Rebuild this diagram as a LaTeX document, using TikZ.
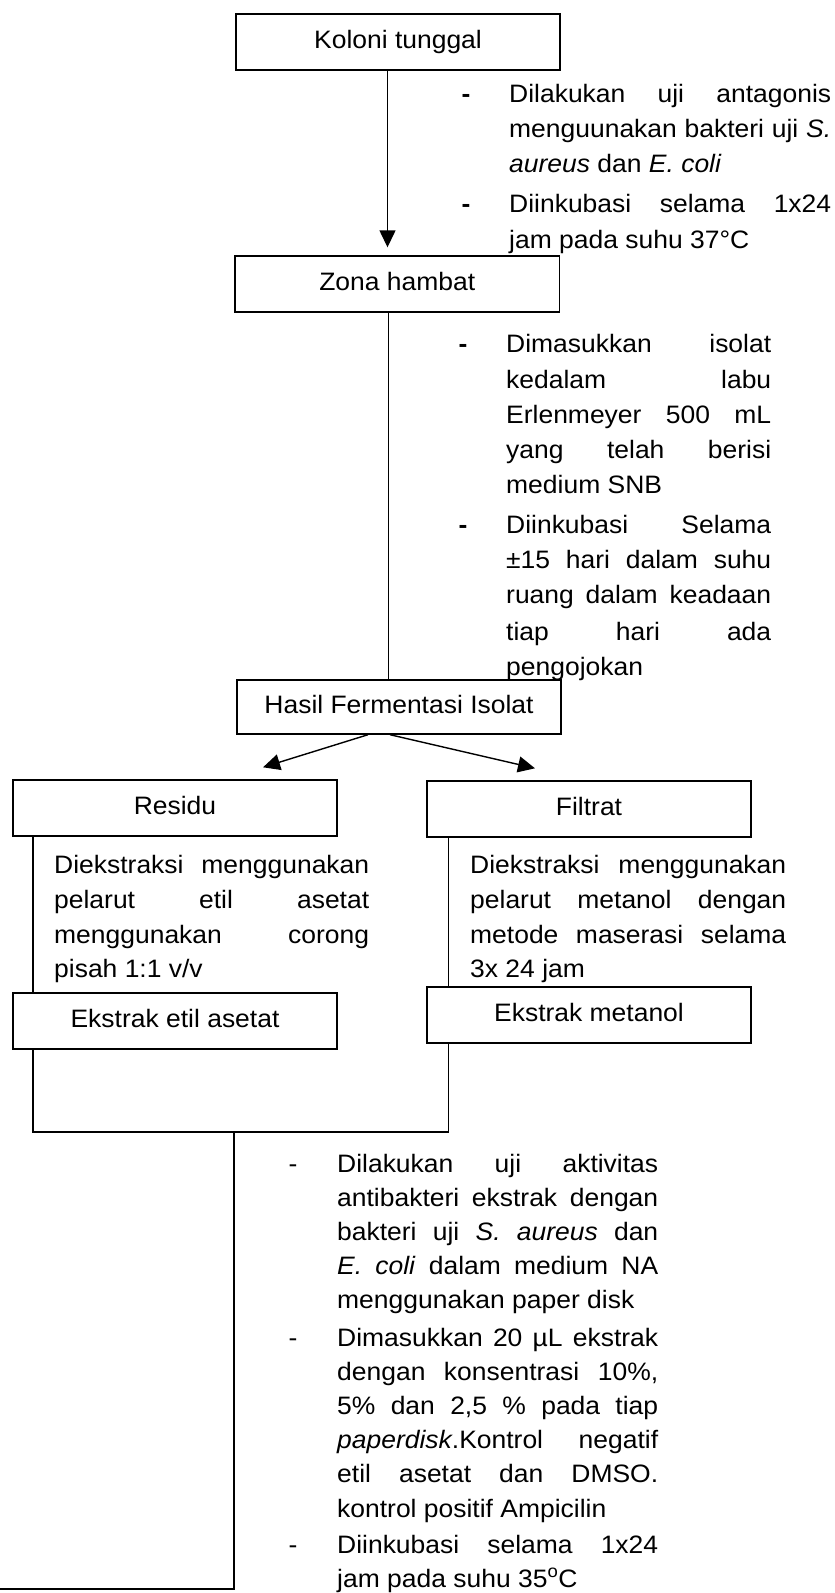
\documentclass[tikz,border=0pt]{standalone}
\usepackage{fontspec}
\setmainfont{Liberation Sans}[FakeStretch=1.05]
\usetikzlibrary{arrows.meta}
\newcommand\jline[4]{\node[txt,anchor=base west] (#1) at (#2) {\makebox[#3][s]{#4}};}
\newcommand\lline[3]{\node[txt,anchor=base west] (#1) at (#2) {#3};}
\newcommand\dashat[2]{\node[txt,anchor=base] (#1) at (#2) {\bfseries -};}
\newcommand\thindash[2]{\node[txt,anchor=base] (#1) at (#2) {-};}
\begin{document}
\begin{tikzpicture}[x=1pt,y=-1pt,
  txt/.style={inner sep=0pt,font=\fontsize{25.2pt}{30pt}\selectfont},
  box/.style={txt,draw,line width=1.4pt,minimum width=324pt,minimum height=56pt,text height=18pt,text depth=5pt},
  conn/.style={line width=1.4pt},
  arr/.style={conn,-{Triangle[length=17pt,width=16pt]}}]
\useasboundingbox (0,0) rectangle (835,1593);
% boxes
\node[box] (koloni) at (398,42) {Koloni tunggal};
\node[box,minimum width=324.5pt] (zona) at (397.25,284) {Zona hambat};
\node[box,minimum height=54pt] (hasil) at (399,707) {Hasil Fermentasi Isolat};
\node[box] (residu) at (175,808) {Residu};
\node[box] (filtrat) at (589,809) {Filtrat};
\node[box] (etil) at (175,1021) {Ekstrak etil asetat};
\node[box] (metanol) at (589,1015) {Ekstrak metanol};
\coordinate (j) at (234,1132);
\coordinate (e) at (0,1589);
% connectors
\draw[arr,shorten >=8pt] ([xshift=-10.5pt]koloni.south) -- ([xshift=-10.5pt]koloni.south |- zona.north);
\draw[conn] ([xshift=-9pt]zona.south) -- ([xshift=-9pt]zona.south |- hasil.north);
\draw[arr] ([xshift=-31pt]hasil.south) -- ([xshift=88pt,yshift=12pt]residu.north);
\draw[arr] ([xshift=-9pt]hasil.south) -- ([xshift=-54pt,yshift=12pt]filtrat.north);
\draw[conn] ([xshift=20.5pt]residu.south west) -- ([xshift=20.5pt]residu.south west |- etil.north);
\draw[conn] ([xshift=22pt]filtrat.south west) -- ([xshift=22pt]filtrat.south west |- metanol.north);
\draw[conn] ([xshift=20.5pt]etil.south west) -- ([xshift=20.5pt]etil.south west |- j) -- ([xshift=22pt]metanol.south west |- j) -- ([xshift=22pt]metanol.south west);
\draw[conn] (j) -- (j |- e) -- (e);
% block 1
\dashat{d1a}{466,102}
\jline{t1a}{509,102}{322pt}{Dilakukan uji antagonis}
\jline{t1b}{509,137}{322pt}{menguunakan bakteri uji \textit{S.}}
\lline{t1c}{509,172}{\textit{aureus} dan \textit{E. coli}}
\dashat{d1b}{466,212}
\jline{t1d}{509,212}{322pt}{Diinkubasi selama 1x24}
\lline{t1e}{509,248}{jam pada suhu 37°C}
% block 2
\dashat{d2a}{463,352}
\jline{t2a}{506,352}{265pt}{Dimasukkan isolat}
\jline{t2b}{506,388}{265pt}{kedalam labu}
\jline{t2c}{506,423}{265pt}{Erlenmeyer 500 mL}
\jline{t2d}{506,458}{265pt}{yang telah berisi}
\lline{t2e}{506,493}{medium SNB}
\dashat{d2b}{463,533}
\jline{t2f}{506,533}{265pt}{Diinkubasi Selama}
\jline{t2g}{506,568}{265pt}{±15 hari dalam suhu}
\jline{t2h}{506,603}{265pt}{ruang dalam keadaan}
\jline{t2i}{506,640}{265pt}{tiap hari ada}
\lline{t2j}{506,675}{pengojokan}
% residu text
\jline{r1}{54,873}{315pt}{Diekstraksi menggunakan}
\jline{r2}{54,908}{315pt}{pelarut etil asetat}
\jline{r3}{54,943}{315pt}{menggunakan corong}
\lline{r4}{54,977}{pisah 1:1 v/v}
% filtrat text
\jline{f1}{470,873}{316pt}{Diekstraksi menggunakan}
\jline{f2}{470,908}{316pt}{pelarut metanol dengan}
\jline{f3}{470,943}{316pt}{metode maserasi selama}
\lline{f4}{470,977}{3x 24 jam}
% block 3
\thindash{d3a}{293,1172}
\jline{t3a}{337,1172}{321pt}{Dilakukan uji aktivitas}
\jline{t3b}{337,1206.2}{321pt}{antibakteri ekstrak dengan}
\jline{t3c}{337,1240.4}{321pt}{bakteri uji \textit{S. aureus} dan}
\jline{t3d}{337,1274.6}{321pt}{\textit{E. coli} dalam medium NA}
\lline{t3e}{337,1308.8}{menggunakan paper disk}
\thindash{d3b}{293,1346}
\jline{t3f}{337,1346}{321pt}{Dimasukkan 20 µL ekstrak}
\jline{t3g}{337,1380.2}{321pt}{dengan konsentrasi 10\%,}
\jline{t3h}{337,1414.4}{321pt}{5\% dan 2,5 \% pada tiap}
\jline{t3i}{337,1448.6}{321pt}{\textit{paperdisk}.Kontrol negatif}
\jline{t3j}{337,1482.8}{321pt}{etil asetat dan DMSO.}
\lline{t3k}{337,1517}{kontrol positif Ampicilin}
\thindash{d3c}{293,1553.5}
\jline{t3l}{337,1553.5}{321pt}{Diinkubasi selama 1x24}
\lline{t3m}{337,1587}{jam pada suhu 35\textsuperscript{o}C}
\end{tikzpicture}
\end{document}
